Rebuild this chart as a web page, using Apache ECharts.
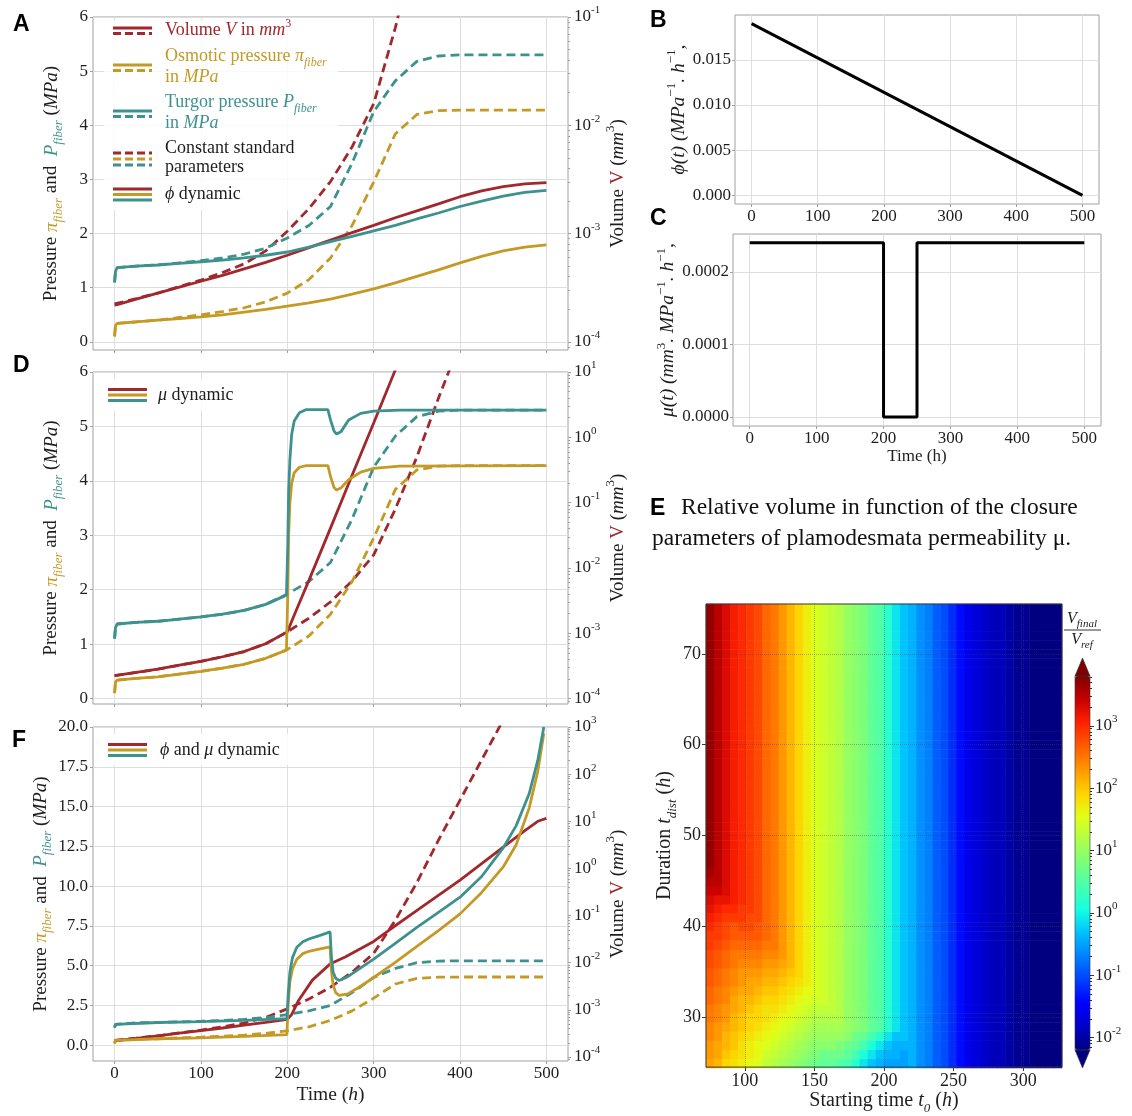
<!DOCTYPE html>
<html><head><meta charset="utf-8">
<script src="https://cdn.jsdelivr.net/npm/echarts@6/dist/echarts.min.js"></script>
<style>html,body{margin:0;padding:0;background:#fff}#c{width:1132px;height:1116px}</style>
</head><body><div id="c"></div><script>
// ---------------- DATA ----------------
// Constant standard parameters (dashed, shared by A, D, F)
const tStd = [0, 1, 3, 25, 50, 75, 100, 125, 150, 175, 200, 225, 250, 275, 300, 325, 350, 375, 400, 425, 450, 500];
const turgorStd = [1.10, 1.30, 1.37, 1.40, 1.42, 1.46, 1.50, 1.55, 1.62, 1.73, 1.92, 2.15, 2.50, 3.30, 4.25, 4.82, 5.18, 5.28, 5.30, 5.30, 5.30, 5.30];
const osmoticStd = [0.10, 0.30, 0.34, 0.37, 0.40, 0.45, 0.50, 0.56, 0.63, 0.74, 0.90, 1.15, 1.55, 2.15, 2.95, 3.84, 4.20, 4.27, 4.28, 4.28, 4.28, 4.28];
const tVolStd = [0, 25, 50, 75, 100, 125, 150, 175, 200, 225, 250, 275, 300, 325, 350, 375, 400, 425, 450];
const volumeStd = [2.24e-4, 2.51e-4, 2.82e-4, 3.24e-4, 3.72e-4, 4.37e-4, 5.25e-4, 6.92e-4, 1.05e-3, 1.70e-3, 3.02e-3, 6.31e-3, 0.0158, 0.0794, 0.501, 3.98, 28.2, 200, 1410];

// phi dynamic (A, solid)
const tPhi = [0, 1, 3, 25, 50, 75, 100, 125, 150, 175, 200, 225, 250, 275, 300, 325, 350, 375, 400, 425, 450, 475, 500];
const turgorPhi = [1.10, 1.30, 1.37, 1.40, 1.42, 1.45, 1.48, 1.51, 1.55, 1.60, 1.66, 1.75, 1.85, 1.95, 2.05, 2.15, 2.27, 2.38, 2.50, 2.60, 2.69, 2.76, 2.80];
const osmoticPhi = [0.10, 0.30, 0.34, 0.37, 0.40, 0.43, 0.46, 0.50, 0.55, 0.60, 0.66, 0.72, 0.79, 0.88, 0.98, 1.09, 1.21, 1.33, 1.46, 1.58, 1.68, 1.75, 1.79];
const volumePhi = [2.19e-4, 2.19e-4, 2.21e-4, 2.48e-4, 2.82e-4, 3.20e-4, 3.63e-4, 4.12e-4, 4.73e-4, 5.43e-4, 6.31e-4, 7.41e-4, 8.71e-4, 1.02e-3, 1.19e-3, 1.40e-3, 1.62e-3, 1.88e-3, 2.19e-3, 2.48e-3, 2.72e-3, 2.88e-3, 2.95e-3];

// mu dynamic (D, solid)
const tMu = [0, 1, 3, 25, 50, 75, 100, 125, 150, 175, 199, 200.5, 201.5, 203, 205, 208, 214, 222, 247, 250, 254, 257, 262, 271, 285, 300, 330, 500];
const turgorMu = [1.10, 1.30, 1.37, 1.40, 1.42, 1.46, 1.50, 1.55, 1.62, 1.73, 1.90, 2.8, 3.8, 4.4, 4.85, 5.1, 5.25, 5.31, 5.31, 5.12, 4.92, 4.86, 4.90, 5.12, 5.24, 5.28, 5.30, 5.30];
const osmoticMu = [0.10, 0.30, 0.34, 0.37, 0.40, 0.45, 0.50, 0.56, 0.63, 0.74, 0.89, 1.9, 3.0, 3.6, 3.95, 4.15, 4.25, 4.28, 4.28, 4.08, 3.88, 3.83, 3.87, 4.02, 4.16, 4.23, 4.27, 4.28];
const tMuVol = [0, 25, 50, 75, 100, 125, 150, 175, 200, 210, 225, 250, 275, 300, 325, 340];
const volumeMu = [2.24e-4, 2.51e-4, 2.82e-4, 3.24e-4, 3.72e-4, 4.37e-4, 5.25e-4, 6.92e-4, 1.05e-3, 2.19e-3, 6.46e-3, 0.0407, 0.263, 1.66, 10.7, 31.6];

// phi and mu dynamic (F, solid)
const tPhiMu = [0, 1, 3, 50, 100, 150, 199.5, 201, 203, 206, 211, 218, 225, 238, 249.5, 251, 253, 256, 260, 270, 285, 300, 325, 350, 375, 400, 425, 450, 465, 480, 490, 497];
const turgorPhiMu = [1.10, 1.30, 1.37, 1.42, 1.48, 1.55, 1.66, 3.2, 4.6, 5.5, 6.15, 6.5, 6.67, 6.9, 7.12, 5.6, 4.6, 4.2, 4.06, 4.3, 4.85, 5.4, 6.4, 7.4, 8.35, 9.3, 10.6, 12.4, 13.8, 15.8, 17.9, 20.0];
const osmoticPhiMu = [0.10, 0.30, 0.34, 0.40, 0.46, 0.55, 0.66, 2.6, 4.0, 4.8, 5.4, 5.75, 5.9, 6.05, 6.18, 4.7, 3.8, 3.3, 3.12, 3.22, 3.7, 4.25, 5.2, 6.2, 7.2, 8.25, 9.6, 11.2, 12.6, 14.9, 17.2, 19.6];
const tPhiMuVol = [0, 25, 50, 75, 100, 125, 150, 175, 200, 205, 213, 229, 250, 267, 300, 320, 351, 400, 450, 475, 490, 500];
const volumePhiMu = [2.19e-4, 2.48e-4, 2.82e-4, 3.20e-4, 3.63e-4, 4.12e-4, 4.73e-4, 5.43e-4, 6.31e-4, 7.94e-4, 1.58e-3, 4.27e-3, 9.55e-3, 0.0132, 0.0282, 0.0525, 0.132, 0.562, 2.82, 6.31, 10.0, 11.5];

// B: phi(t), C: mu(t)
const phiT = [0, 500];
const phiVal = [0.019, 0.0];
const muT = [0, 200, 200, 250, 250, 500];
const muVal = [0.00024, 0.00024, 0, 0, 0.00024, 0.00024];

// E: heatmap (starting time t0 x duration), values = log10(Vfinal/Vref)
const heatT0 = [75.0, 80.8, 86.6, 92.4, 98.3, 104.1, 109.9, 115.7, 121.5, 127.3, 133.1, 139.0, 144.8, 150.6, 156.4, 162.2, 168.0, 173.8, 179.7, 185.5, 191.3, 197.1, 202.9, 208.7, 214.5, 220.3, 226.2, 232.0, 237.8, 243.6, 249.4, 255.2, 261.0, 266.9, 272.7, 278.5, 284.3, 290.1, 295.9, 301.7, 307.6, 313.4, 319.2, 325.0];
const heatDur = [25, 26, 27, 28, 29, 30, 31, 32, 33, 34, 35, 36, 37, 38, 39, 40, 41, 42, 43, 44, 45, 46, 47, 48, 49, 50, 51, 52, 53, 54, 55, 56, 57, 58, 59, 60, 61, 62, 63, 64, 65, 66, 67, 68, 69, 70, 71, 72, 73, 74, 75];
// one character per cell: value = -2.2 + 0.1 * index in HEAT_CODE
const HEAT_CODE = '0123456789ABCDEFGHIJKLMNOPQRSTUVWXYZabcdefghijklmnopqrstuvwxyz';
const heatRowsLow = [ // durations 25 .. 46, columns 0..24
  'ihfedcbZYXWVUTSSRQOLJIHHH', 'jigfedcaZYXWVUTTTSQNLJIIH', 'jihgedcbaZYXWVVVUTSQNLJII', 'kjhgfedcbaZYXWWWWVTSQOLJJ',
  'kjihgfedcbaZYXXXXWVUSROLJ', 'lkjhgffedcbaZYYYYWVUSROLJ', 'lkjihgfeedcbaZZZYWVUSROLJ', 'mlkihhgffedcbaaZYWVUSROLJ',
  'mlkjiihggfedcbaZYWVUSROLJ', 'nmlkjiihhgfedbaZYWVUSROLJ', 'nmlkjjjiihgfdbaZYWVUSROLJ', 'onmlkkkjjihfdbaZYWVUSROLJ',
  'onmllllkkjhfdbaZYWVUSROLJ', 'ponmmmmlljhfdbaZYWVUSROLJ', 'pponnnnmljhfdbaZYWVUSROLJ', 'qponoonmljhfdbaZYWVUSROLJ',
  'rqpppoomljhfdbaZYWVUSROLJ', 'srqqppomljhfdbaZYWVUSROLJ', 'tssrqpomljhfdbaZYWVUSROLJ', 'uutrqpomljhfdbaZYWVUSROLJ',
  'vvtrqpomljhfdbaZYWVUSROLJ', 'wvtrqpomljhfdbaZYWVUSROLJ'];
const heatRowTop = 'xvtrqpomljhfdbaZYWVUSROLJ'; // durations 47 .. 75
const heatTail = 'IGFDCA8654332110000';       // columns 25..43, all durations

// tick lists
const timeTicks = [0, 100, 200, 300, 400, 500];
const pressTicks6 = [0, 1, 2, 3, 4, 5, 6];
const pressTicks20 = [0, 2.5, 5, 7.5, 10, 12.5, 15, 17.5, 20];
const volTicksA = [-4, -3, -2, -1];
const volTicksD = [-4, -3, -2, -1, 0, 1];
const volTicksF = [-4, -3, -2, -1, 0, 1, 2, 3];
const phiTicks = [0, 0.005, 0.010, 0.015];
const muTicks = [0, 0.0001, 0.0002];
const heatXTicks = [100, 150, 200, 250, 300];
const heatYTicks = [30, 40, 50, 60, 70];
const cbTicks = [-2, -1, 0, 1, 2, 3];

// ---------------- STYLE ----------------
const RED = '#a1282d', GOLD = '#c49a25', TEAL = '#3d918e';
const SERIF = 'Liberation Serif', SANS = 'Liberation Sans';
const TXT = '#1e1e1e', GRID_C = '#dedede', SPINE_C = '#a0a0a0';
const JET = ['#000080', '#0000c8', '#0000ff', '#0040ff', '#0080ff', '#00bfff', '#15ffe2', '#48ffaf', '#7bff7b', '#afff48', '#e2ff15', '#ffd200', '#ff9700', '#ff5c00', '#ff2100', '#c80000', '#800000'];

function mkRich(fs) {
  const lh = Math.round(fs * 1.4), sfs = Math.round(fs * 0.66), slh = Math.round(fs * 0.7);
  const t = (o) => Object.assign({fontFamily: SERIF, fontSize: fs, lineHeight: lh, color: TXT, fill: TXT}, o);
  return {
    n: t({}), i: t({fontStyle: 'italic'}),
    pg: t({fontStyle: 'italic', color: GOLD, fill: GOLD}),
    sg: t({fontStyle: 'italic', color: GOLD, fill: GOLD, fontSize: sfs, lineHeight: slh, verticalAlign: 'bottom'}),
    pt: t({fontStyle: 'italic', color: TEAL, fill: TEAL}),
    st: t({fontStyle: 'italic', color: TEAL, fill: TEAL, fontSize: sfs, lineHeight: slh, verticalAlign: 'bottom'}),
    vr: t({color: RED, fill: RED}),
    sub: t({fontStyle: 'italic', fontSize: sfs, lineHeight: slh, verticalAlign: 'bottom'}),
    sup: t({fontSize: sfs, lineHeight: slh, verticalAlign: 'top'}),
    b: t({}),
    s: t({fontSize: sfs, lineHeight: slh, verticalAlign: 'top'})
  };
}
const R16 = mkRich(16), R17 = mkRich(17), R18 = mkRich(18), R19 = mkRich(19), R195 = mkRich(19.5), R20 = mkRich(20);
const pressureName = '{n|Pressure }{pg|π}{sg|fiber}{n| and  }{pt|P}{st|fiber}{n| (}{i|MPa}{n|)}';
const volumeName = '{n|Volume }{vr|V}{n| (}{i|mm}{sup|3}{n|)}';
const powFmt = v => '{b|10}{s|' + Math.round(v) + '}';

function minorLog(min, max) {
  const out = [];
  for (let n = Math.floor(min) - 1; n <= Math.ceil(max); n++)
    for (let k = 2; k <= 9; k++) { const v = n + Math.log10(k); if (v > min && v < max) out.push(v); }
  return out;
}
function pairs(t, v) { return t.map((x, i) => [x, v[i]]); }
function logPairs(t, v) { return t.map((x, i) => [x, Math.log10(v[i])]); }

// ---------------- LAYOUT ----------------
const grids = [
  {left: 93, top: 17, width: 475, height: 333},   // 0 A
  {left: 93, top: 372, width: 475, height: 332},  // 1 D
  {left: 93, top: 727, width: 475, height: 334},  // 2 F
  {left: 735, top: 15, width: 364, height: 189},  // 3 B
  {left: 733, top: 234, width: 368, height: 192}, // 4 C
  {left: 706, top: 604, width: 356, height: 464}, // 5 E heat
  {left: 706, top: 604, width: 356, height: 464}, // 6 E overlay
  {left: 1075, top: 676, width: 15, height: 374}  // 7 colorbar
].map((g, i) => Object.assign({show: i < 5 || i === 6, borderColor: i === 6 ? '#3a3a3a' : SPINE_C, borderWidth: 1,
  backgroundColor: 'rgba(0,0,0,0)', z: i === 6 ? 6 : 0}, g));

function timeAxis(g, showLabels, fs, name, nameRich, nameGap, nameFs) {
  return {type: 'value', gridIndex: g, min: -25, max: 525,
    axisLine: {show: false, onZero: false},
    axisTick: {show: true, customValues: timeTicks, length: 3, lineStyle: {color: SPINE_C}},
    axisLabel: {show: showLabels, customValues: timeTicks, margin: 4, fontFamily: SERIF, fontSize: fs, color: TXT},
    splitLine: {show: true, lineStyle: {color: GRID_C, width: 1}},
    name: name || '', nameLocation: 'middle', nameGap: nameGap || 20,
    nameTextStyle: {fontFamily: SERIF, fontSize: nameFs || fs, color: TXT, rich: nameRich}};
}
function pressureAxis(g, min, max, ticks, fmt) {
  return {type: 'value', gridIndex: g, min, max, position: 'left',
    axisLine: {show: false, onZero: false},
    axisTick: {show: true, customValues: ticks, length: 3, lineStyle: {color: SPINE_C}},
    axisLabel: {customValues: ticks, formatter: fmt, margin: 5, fontFamily: SERIF, fontSize: 17, color: TXT},
    splitLine: {show: true, lineStyle: {color: GRID_C, width: 1}},
    name: pressureName, nameLocation: 'middle', nameRotate: 90, nameGap: 28,
    nameTextStyle: {fontFamily: SERIF, fontSize: 19, color: TXT, rich: R19}};
}
function volAxis(g, min, max, ticks) {
  return {type: 'value', gridIndex: g, min, max, position: 'right',
    axisLine: {show: false, onZero: false},
    axisTick: {show: true, customValues: ticks, length: 3, lineStyle: {color: SPINE_C}},
    axisLabel: {customValues: ticks, formatter: powFmt, margin: 6, rich: R17, fontFamily: SERIF, fontSize: 17, color: TXT},
    splitLine: {show: false},
    name: volumeName, nameLocation: 'middle', nameRotate: 90, nameGap: 33,
    nameTextStyle: {fontFamily: SERIF, fontSize: 19, color: TXT, rich: R19}};
}
function minorAxis(g, min, max, color) {
  return {type: 'value', gridIndex: g, min, max, position: 'right',
    axisLine: {show: false, onZero: false},
    axisTick: {show: true, customValues: minorLog(min, max), length: 2, lineStyle: {color: color || SPINE_C}},
    axisLabel: {show: false}, splitLine: {show: false}};
}

const xAxes = [
  timeAxis(0, false, 17),
  timeAxis(1, false, 17),
  timeAxis(2, true, 17, '{n|Time (}{i|h}{n|)}', R195, 20, 19.5),
  timeAxis(3, true, 17),
  timeAxis(4, true, 17, 'Time (h)', R17, 17),
  {type: 'category', gridIndex: 5, data: heatT0, show: false},
  {type: 'value', gridIndex: 6, min: 72.1, max: 327.9, z: 5,
    axisLine: {show: false, onZero: false},
    axisTick: {show: true, customValues: heatXTicks, length: 4, lineStyle: {color: '#3a3a3a'}},
    axisLabel: {customValues: heatXTicks, margin: 5, fontFamily: SERIF, fontSize: 18, color: TXT},
    splitLine: {show: true, lineStyle: {type: 'dotted', color: 'rgba(70,70,70,0.4)', width: 1}},
    name: '{n|Starting time }{i|t}{sub|0}{n| (}{i|h}{n|)}', nameLocation: 'middle', nameGap: 19,
    nameTextStyle: {fontFamily: SERIF, fontSize: 20, color: TXT, rich: R20}},
  {type: 'value', gridIndex: 7, min: 0, max: 1, show: false}
];
const yAxes = [
  pressureAxis(0, -0.15, 6, pressTicks6, v => String(v)),          // 0
  volAxis(0, -4.075, -1, volTicksA),                                // 1
  minorAxis(0, -4.075, -1),                                         // 2
  pressureAxis(1, -0.1, 6, pressTicks6, v => String(v)),           // 3
  volAxis(1, -4.083, 1, volTicksD),                                 // 4
  minorAxis(1, -4.083, 1),                                          // 5
  pressureAxis(2, -1, 20, pressTicks20, v => v.toFixed(1)),        // 6
  volAxis(2, -4.085, 3, volTicksF),                                 // 7
  minorAxis(2, -4.085, 3),                                          // 8
  {type: 'value', gridIndex: 3, min: -0.00095, max: 0.01995, position: 'left',   // 9 B
    axisLine: {show: false, onZero: false},
    axisTick: {show: true, customValues: phiTicks, length: 3, lineStyle: {color: SPINE_C}},
    axisLabel: {customValues: phiTicks, formatter: v => v.toFixed(3), margin: 4, fontFamily: SERIF, fontSize: 17, color: TXT},
    splitLine: {show: true, lineStyle: {color: GRID_C}},
    name: '{i|ϕ(t) (MPa}{sup|−1}{i|. h}{sup|−1}{i|,}', nameLocation: 'middle', nameRotate: 90, nameGap: 37,
    nameTextStyle: {fontFamily: SERIF, fontSize: 19.5, color: TXT, rich: R195}},
  {type: 'value', gridIndex: 4, min: -0.0000124, max: 0.000252, position: 'left',   // 10 C
    axisLine: {show: false, onZero: false},
    axisTick: {show: true, customValues: muTicks, length: 3, lineStyle: {color: SPINE_C}},
    axisLabel: {customValues: muTicks, formatter: v => v.toFixed(4), margin: 4, fontFamily: SERIF, fontSize: 17, color: TXT},
    splitLine: {show: true, lineStyle: {color: GRID_C}},
    name: '{i|μ(t) (mm}{sup|3}{i|. MPa}{sup|−1}{i|. h}{sup|−1}{i|,}', nameLocation: 'middle', nameRotate: 90, nameGap: 38,
    nameTextStyle: {fontFamily: SERIF, fontSize: 19.5, color: TXT, rich: R195}},
  {type: 'category', gridIndex: 5, data: heatDur, show: false},      // 11
  {type: 'value', gridIndex: 6, min: 24.5, max: 75.5, z: 5, position: 'left',   // 12
    axisLine: {show: false, onZero: false},
    axisTick: {show: true, customValues: heatYTicks, length: 4, lineStyle: {color: '#3a3a3a'}},
    axisLabel: {customValues: heatYTicks, margin: 5, fontFamily: SERIF, fontSize: 18, color: TXT},
    splitLine: {show: true, lineStyle: {type: 'dotted', color: 'rgba(70,70,70,0.4)', width: 1}},
    name: '{n|Duration }{i|t}{sub|dist}{n| (}{i|h}{n|)}', nameLocation: 'middle', nameRotate: 90, nameGap: 25,
    nameTextStyle: {fontFamily: SERIF, fontSize: 20, color: TXT, rich: R20}},
  {type: 'value', gridIndex: 7, min: -2.2, max: 3.8, position: 'right',   // 13 colorbar
    axisLine: {show: false, onZero: false},
    axisTick: {show: true, customValues: cbTicks, length: 4, lineStyle: {color: '#333'}},
    axisLabel: {customValues: cbTicks, formatter: powFmt, margin: 5, rich: R17, fontFamily: SERIF, fontSize: 17, color: TXT},
    splitLine: {show: false}},
  minorAxis(7, -2.2, 3.8, '#333')                                   // 14
];

// ---------------- SERIES ----------------
const DASH = [9, 5];
function ln(xi, yi, data, color, dashed, w) {
  return {type: 'line', xAxisIndex: xi, yAxisIndex: yi, data, symbol: 'none', showSymbol: false, silent: true,
    clip: true, animation: false, z: dashed ? 2 : 3,
    lineStyle: {color, width: w || 2.8, type: dashed ? DASH : 'solid', cap: 'butt'}};
}
const heatData = [];
heatDur.forEach((d, j) => {
  const row = (d <= 46 ? heatRowsLow[j] : heatRowTop) + heatTail;
  heatT0.forEach((t, i) => heatData.push([i, j, -2.2 + 0.1 * HEAT_CODE.indexOf(row[i])]));
});

const series = [
  // A
  ln(0, 1, logPairs(tVolStd, volumeStd), RED, true),
  ln(0, 0, pairs(tStd, osmoticStd), GOLD, true),
  ln(0, 0, pairs(tStd, turgorStd), TEAL, true),
  ln(0, 1, logPairs(tPhi, volumePhi), RED, false),
  ln(0, 0, pairs(tPhi, osmoticPhi), GOLD, false),
  ln(0, 0, pairs(tPhi, turgorPhi), TEAL, false),
  // D
  ln(1, 4, logPairs(tVolStd, volumeStd), RED, true),
  ln(1, 3, pairs(tStd, osmoticStd), GOLD, true),
  ln(1, 3, pairs(tStd, turgorStd), TEAL, true),
  ln(1, 4, logPairs(tMuVol, volumeMu), RED, false),
  ln(1, 3, pairs(tMu, osmoticMu), GOLD, false),
  ln(1, 3, pairs(tMu, turgorMu), TEAL, false),
  // F
  ln(2, 7, logPairs(tVolStd, volumeStd), RED, true),
  ln(2, 6, pairs(tStd, osmoticStd), GOLD, true),
  ln(2, 6, pairs(tStd, turgorStd), TEAL, true),
  ln(2, 7, logPairs(tPhiMuVol, volumePhiMu), RED, false),
  ln(2, 6, pairs(tPhiMu, osmoticPhiMu), GOLD, false),
  ln(2, 6, pairs(tPhiMu, turgorPhiMu), TEAL, false),
  // B, C
  ln(3, 9, pairs(phiT, phiVal), '#000', false, 3),
  ln(4, 10, pairs(muT, muVal), '#000', false, 3),
  // E
  {type: 'heatmap', xAxisIndex: 5, yAxisIndex: 11, data: heatData, silent: true, animation: false,
    progressive: 0, emphasis: {disabled: true}, itemStyle: {borderWidth: 0}}
];
const HEAT_SERIES = series.length - 1;

// ---------------- GRAPHICS (legends, titles, colorbar ends) ----------------
function seg(x1, x2, y, color, dashed) {
  return {type: 'line', silent: true, z: 1, shape: {x1, y1: y, x2, y2: y},
    style: {stroke: color, lineWidth: 2.8, lineDash: dashed ? [8, 4] : null}};
}
function txt(x, y, text, rich, extra) {
  return Object.assign({type: 'text', silent: true, z: 1, x, y,
    style: Object.assign({text, rich, fill: TXT, fontFamily: SERIF, fontSize: 18, verticalAlign: 'middle', align: 'left'}, extra || {})});
}
function colored(rich, color) {
  const out = {};
  Object.keys(rich).forEach(k => out[k] = Object.assign({}, rich[k], {color, fill: color}));
  return out;
}
const RR = colored(R18, RED), RG = colored(R18, GOLD), RT = colored(R18, TEAL);
const IX1 = 113, IX2 = 152, TX = 165;
const LETTER = {fontFamily: SANS, fontWeight: 'bold', fontSize: 23, fill: '#000'};
const graphics = [
  // panel letters
  txt(13, 25, 'A', null, LETTER),
  txt(650, 21, 'B', null, LETTER),
  txt(650, 219, 'C', null, LETTER),
  txt(13, 366, 'D', null, LETTER),
  txt(12, 741, 'F', null, LETTER),
  txt(650, 509, 'E', null, LETTER),
  txt(681, 508, 'Relative volume in function of the closure', null, {fontSize: 23.5, fill: '#111'}),
  txt(652, 539, 'parameters of plamodesmata permeability μ.', null, {fontSize: 23.5, fill: '#111'}),
  // legend A
  {type: 'rect', silent: true, z: 1, shape: {x: 104, y: 20, width: 234, height: 190}, style: {fill: 'rgba(255,255,255,0.85)'}},
  seg(IX1, IX2, 28, RED, false), seg(IX1, IX2, 33.5, RED, true),
  txt(TX, 30, '{n|Volume }{i|V}{n| in }{i|mm}{sup|3}', RR),
  seg(IX1, IX2, 65, GOLD, false), seg(IX1, IX2, 70.5, GOLD, true),
  txt(TX, 56, '{n|Osmotic pressure }{i|π}{sub|fiber}', RG),
  txt(TX, 77, '{n|in }{i|MPa}', RG),
  seg(IX1, IX2, 111, TEAL, false), seg(IX1, IX2, 116.5, TEAL, true),
  txt(TX, 102, '{n|Turgor pressure }{i|P}{sub|fiber}', RT),
  txt(TX, 123, '{n|in }{i|MPa}', RT),
  seg(IX1, IX2, 153, RED, true), seg(IX1, IX2, 159, GOLD, true), seg(IX1, IX2, 165, TEAL, true),
  txt(TX, 148, 'Constant standard', null),
  txt(TX, 167, 'parameters', null),
  seg(IX1, IX2, 189, RED, false), seg(IX1, IX2, 194.5, GOLD, false), seg(IX1, IX2, 200, TEAL, false),
  txt(TX, 194, '{i|ϕ}{n| dynamic}', R18),
  // legend D
  {type: 'rect', silent: true, z: 1, shape: {x: 103, y: 379, width: 140, height: 32}, style: {fill: 'rgba(255,255,255,0.85)'}},
  seg(108, 147, 389.5, RED, false), seg(108, 147, 395, GOLD, false), seg(108, 147, 400.5, TEAL, false),
  txt(158, 395, '{i|μ}{n| dynamic}', R18),
  // legend F
  {type: 'rect', silent: true, z: 1, shape: {x: 103, y: 734, width: 190, height: 31}, style: {fill: 'rgba(255,255,255,0.85)'}},
  seg(108, 147, 744.5, RED, false), seg(108, 147, 750, GOLD, false), seg(108, 147, 755.5, TEAL, false),
  txt(160, 750, '{i|ϕ}{n| and }{i|μ}{n| dynamic}', R18),
  // colorbar extensions + outline + title
  {type: 'polygon', silent: true, z: 5, shape: {points: [[1075, 676], [1090, 676], [1082.5, 658]]}, style: {fill: '#800000', stroke: '#333', lineWidth: 0.6}},
  {type: 'polygon', silent: true, z: 5, shape: {points: [[1075, 1050], [1090, 1050], [1082.5, 1068]]}, style: {fill: '#000080', stroke: '#333', lineWidth: 0.6}},
  {type: 'rect', silent: true, z: 5, shape: {x: 1075, y: 676, width: 15, height: 374}, style: {fill: 'none', stroke: '#333', lineWidth: 0.6}},
  txt(1082, 619, '{i|V}{sub|final}', R16, {align: 'center', fill: '#333'}),
  {type: 'line', silent: true, z: 5, shape: {x1: 1064, y1: 630, x2: 1101, y2: 630}, style: {stroke: '#333', lineWidth: 1}},
  txt(1082, 640, '{i|V}{sub|ref}', R16, {align: 'center', fill: '#333'})
];

const option = {
  backgroundColor: '#fff', animation: false,
  textStyle: {fontFamily: SERIF},
  grid: grids, xAxis: xAxes, yAxis: yAxes, series,
  visualMap: {type: 'continuous', seriesIndex: HEAT_SERIES, min: -2.2, max: 3.8, dimension: 2,
    inRange: {color: JET}, show: true, calculable: false, hoverLink: false, orient: 'vertical',
    left: 1075, top: 676, itemWidth: 15, itemHeight: 374, padding: 0, text: null, z: 4},
  graphic: {elements: graphics}
};
const chart = echarts.init(document.getElementById('c'), null, {renderer: 'canvas'});
chart.setOption(option);
</script></body></html>
